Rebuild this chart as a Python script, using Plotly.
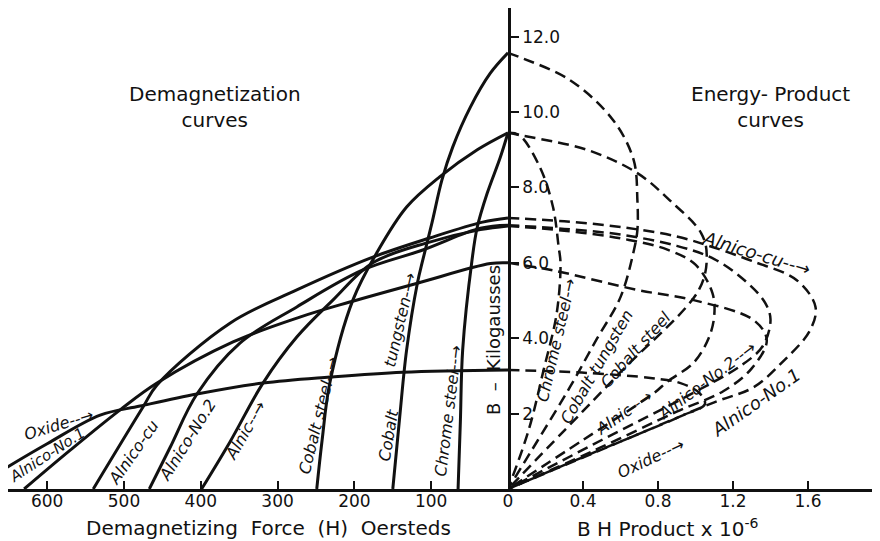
import plotly.graph_objects as go

# demagnetization curves: H (oersteds) vs B (kilogausses)
chrome_h = [0, 10, 27, 40, 47, 59, 62, 65]
chrome_b = [9.45, 8.8, 7.85, 6.95, 6.05, 3.7, 1.8, 0]
cotung_h = [0, 23, 49, 72, 86, 99, 111, 118, 132, 141, 150]
cotung_b = [11.57, 11.03, 10.13, 9.07, 8.2, 7.06, 6.07, 5.46, 3.69, 1.91, 0]
costeel_h = [0, 40, 89, 132, 171, 202, 232, 242, 249]
costeel_b = [9.45, 9.0, 8.28, 7.48, 6.26, 5.01, 2.81, 1.3, 0]
alnic_h = [0, 36, 102, 176, 228, 275, 319, 362, 399]
alnic_b = [6.98, 6.88, 6.55, 6.0, 5.01, 4.03, 2.81, 1.25, 0]
alnico2_h = [0, 36, 111, 189, 275, 349, 405, 440, 467]
alnico2_b = [7.0, 6.92, 6.34, 5.81, 4.83, 3.87, 2.52, 1.1, 0]
alnicocu_h = [0, 33, 102, 176, 275, 362, 457, 475, 540]
alnicocu_b = [7.19, 7.08, 6.66, 6.15, 5.28, 4.4, 2.76, 2.18, 0]
alnico1_h = [0, 23, 118, 206, 271, 358, 457, 505, 570, 630]
alnico1_b = [6.0, 5.98, 5.46, 4.96, 4.56, 3.9, 2.81, 2.1, 1.03, 0]
oxide_h = [0, 137, 232, 319, 405, 479, 531, 600, 652]
oxide_b = [3.16, 3.1, 2.97, 2.81, 2.52, 2.2, 1.96, 1.2, 0.58]

# energy-product curves: BH x 10^-6 vs B (kilogausses)
chrome_bh = [0, 0.06, 0.17, 0.24, 0.27, 0.28, 0.26, 0.19, 0.11, 0]
chrome_eb = [9.45, 9.39, 8.54, 7.48, 6.42, 6.0, 4.67, 3.16, 1.56, 0]
cotung_bh = [0, 0.06, 0.33, 0.56, 0.67, 0.69, 0.69, 0.67, 0.6, 0.47, 0.33, 0.16, 0]
cotung_eb = [11.57, 11.46, 10.85, 9.79, 8.73, 7.67, 6.87, 6.3, 5.09, 3.95, 2.7, 1.3, 0]
costeel_bh = [0, 0.06, 0.42, 0.69, 0.86, 1.03, 1.06, 1.02, 0.6, 0.3, 0]
costeel_eb = [9.45, 9.39, 9.0, 8.38, 7.67, 6.79, 6.2, 5.3, 3.1, 1.55, 0]
alnic_bh = [0, 0.3, 0.6, 0.85, 1.0, 1.09, 1.1, 1.07, 0.99, 0.85, 0.78, 0.4, 0]
alnic_eb = [6.98, 6.85, 6.65, 6.35, 5.95, 5.2, 4.6, 4.0, 3.35, 2.85, 2.55, 1.3, 0]
alnico2_bh = [0, 0.3, 0.6, 0.9, 1.1, 1.27, 1.37, 1.4, 1.36, 1.25, 0.95, 0.5, 0]
alnico2_eb = [7.0, 6.9, 6.75, 6.45, 6.1, 5.5, 4.95, 4.5, 3.8, 3.3, 2.45, 1.3, 0]
alnicocu_bh = [0, 0.3, 0.6, 0.9, 1.09, 1.3, 1.54, 1.64, 1.61, 1.47, 1.31, 1.1, 0.55, 0]
alnicocu_eb = [7.19, 7.1, 6.95, 6.7, 6.42, 6.05, 5.54, 4.83, 4.2, 3.4, 2.7, 2.3, 1.15, 0]
alnico1_bh = [0, 0.24, 0.69, 0.99, 1.31, 1.38, 1.3, 1.15, 0.9, 0.45, 0]
alnico1_eb = [6.0, 5.8, 5.28, 5.01, 4.48, 3.95, 3.2, 2.6, 2.05, 1.0, 0]
oxide_bh = [0, 0.42, 0.77, 0.92, 1.02, 1.05, 0.93, 0.45, 0]
oxide_eb = [3.16, 3.08, 2.94, 2.81, 2.55, 2.25, 1.95, 0.95, 0]

h_ticks = [0, 100, 200, 300, 400, 500, 600]
h_labels = ["0", "100", "200", "300", "400", "500", "600"]
bh_ticks = [0.4, 0.8, 1.2, 1.6]
bh_labels = ["0.4", "0.8", "1.2", "1.6"]
b_ticks = [2, 4, 6, 8, 10, 12]
b_labels = ["2", "4.0", "6.0", "8.0", "10.0", "12.0"]

FONT = "DejaVu Sans"
INK = "#111111"

demag = [(chrome_h, chrome_b), (cotung_h, cotung_b), (costeel_h, costeel_b),
         (alnic_h, alnic_b), (alnico2_h, alnico2_b), (alnicocu_h, alnicocu_b),
         (alnico1_h, alnico1_b), (oxide_h, oxide_b)]
energy = [(chrome_bh, chrome_eb), (cotung_bh, cotung_eb), (costeel_bh, costeel_eb),
          (alnic_bh, alnic_eb), (alnico2_bh, alnico2_eb), (alnicocu_bh, alnicocu_eb),
          (alnico1_bh, alnico1_eb), (oxide_bh, oxide_eb)]

fig = go.Figure()
for h, b in demag:
    fig.add_trace(go.Scatter(x=h, y=b, xaxis="x", yaxis="y", mode="lines",
                             line=dict(color=INK, width=3, shape="spline", smoothing=1),
                             hoverinfo="skip"))
for bh, b in energy:
    fig.add_trace(go.Scatter(x=bh, y=b, xaxis="x2", yaxis="y", mode="lines",
                             line=dict(color=INK, width=2.5, dash="11px,6px",
                                       shape="spline", smoothing=1),
                             hoverinfo="skip"))


def label(text, x, y, angle, ref="x", size=16):
    fig.add_annotation(text=f"<i>{text}</i>", x=x, y=y, xref=ref, yref="y",
                       textangle=angle, showarrow=False,
                       font=dict(family=FONT, size=size, color=INK))


# left side labels
label("Oxide--→", 585, 1.72, -17)
label("Alnico-No.1", 600, 0.9, -33, size=15)
label("Alnico-cu", 488, 0.98, -55)
label("Alnico-No.2", 418, 1.3, -58)
label("Alnic--→", 342, 1.56, -60)
label("Cobalt steel--→", 247, 1.96, -76)
label("Cobalt", 156, 1.43, -80)
label("tungsten--→", 141, 4.48, -77)
label("Chrome steel--→", 77, 2.07, -83)

# right side labels
label("Chrome steel-→", 0.256, 3.95, -77, "x2")
label("Cobalt tungsten", 0.475, 3.24, -60, "x2")
label("Cobalt steel", 0.683, 3.69, -48, "x2")
label("Alnic--→", 0.62, 2.02, -35, "x2")
label("Alnico-No.2--→", 1.06, 2.89, -37, "x2")
label("Alnico-No.1", 1.32, 2.3, -35, "x2", 18)
label("Oxide--→", 0.76, 0.82, -25, "x2")
label("Alnico-cu--→", 1.33, 6.25, 17, "x2", 18)

text_font = dict(family=FONT, size=20, color=INK)
fig.add_annotation(text="Demagnetization<br>curves", x=381, y=10.13, xref="x", yref="y",
                   showarrow=False, font=text_font)
fig.add_annotation(text="Energy- Product<br>curves", x=1.4, y=10.13, xref="x2", yref="y",
                   showarrow=False, font=text_font)
fig.add_annotation(text="B  –  Kilogausses", x=19.5, y=3.95, xref="x", yref="y",
                   textangle=-90, showarrow=False, font=dict(family=FONT, size=18, color=INK))
fig.add_annotation(text="Demagnetizing  Force  (H)  Oersteds", x=312, y=-0.082,
                   xref="x", yref="paper", showarrow=False, yanchor="middle", font=text_font)
fig.add_annotation(text="B H Product x 10<sup>-6</sup>", x=0.853, y=-0.082,
                   xref="x2", yref="paper", showarrow=False, yanchor="middle", font=text_font)

axis_common = dict(showgrid=False, zeroline=False, showline=True, linecolor=INK,
                   linewidth=2.5, ticklen=8, tickwidth=1.5, tickcolor=INK,
                   automargin=False, tickfont=dict(family=FONT, size=17, color=INK))

# the page body keeps an 8px margin, so the figure is 8px smaller than the window
fig.update_layout(
    width=872, height=533,
    margin=dict(l=0, r=0, t=0, b=52),
    paper_bgcolor="white", plot_bgcolor="white",
    showlegend=False,
    xaxis=dict(domain=[0, 500 / 872], range=[651, 0], anchor="y", ticks="inside",
               ticklabelstandoff=-5,
               tickmode="array", tickvals=h_ticks, ticktext=h_labels, **axis_common),
    xaxis2=dict(domain=[500 / 872, 1], range=[0, 1.984], anchor="y", ticks="inside",
                ticklabelstandoff=-5,
                tickmode="array", tickvals=bh_ticks, ticktext=bh_labels, **axis_common),
    yaxis=dict(domain=[0, 1], range=[0, 12.76], anchor="x", side="right", ticks="outside",
               tickmode="array", tickvals=b_ticks, ticktext=b_labels, **axis_common),
)

fig.write_html("out.html")
